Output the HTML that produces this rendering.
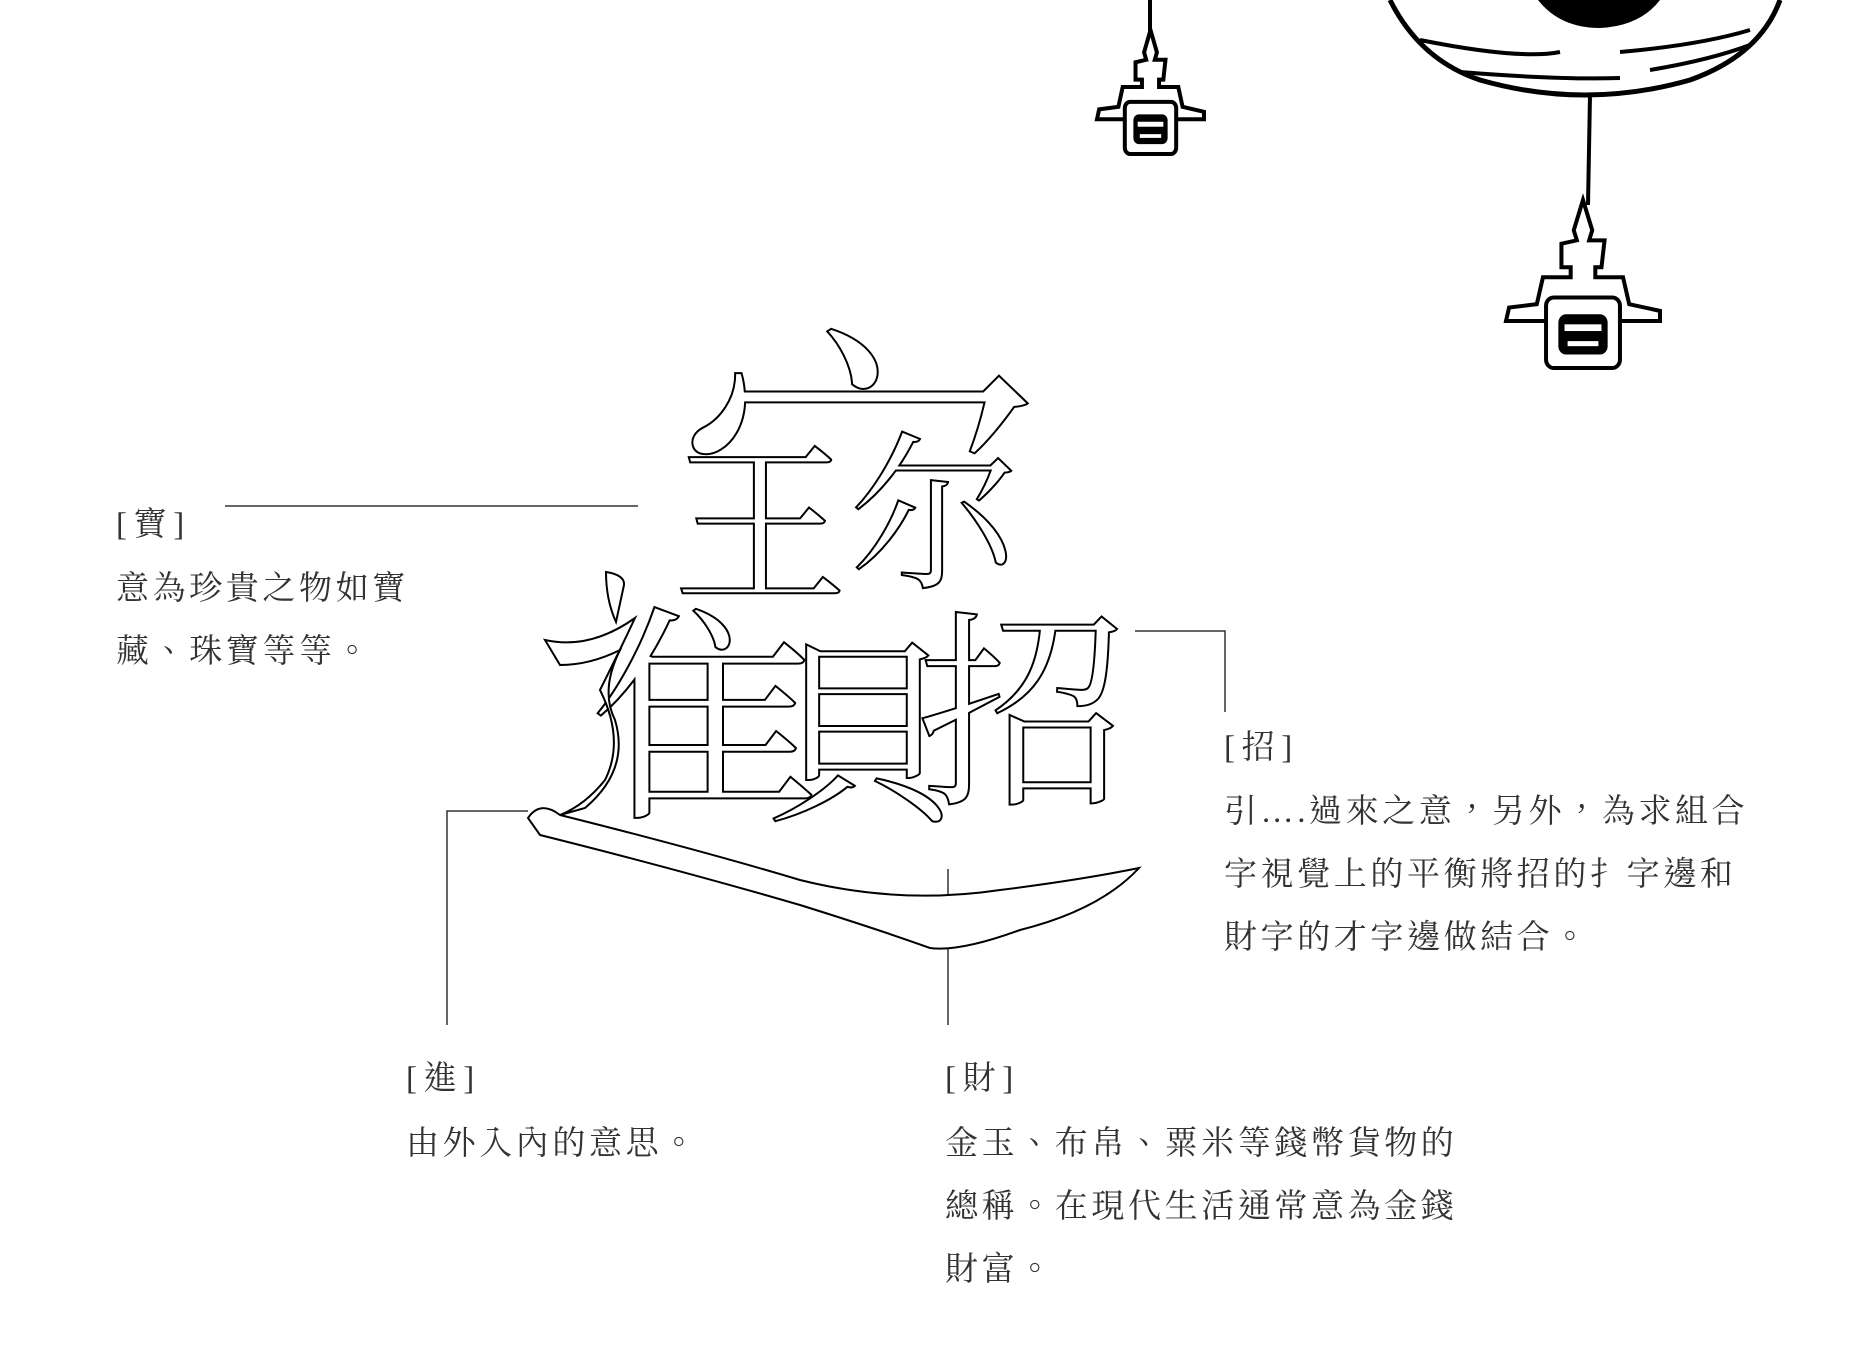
<!DOCTYPE html>
<html><head><meta charset="utf-8"><style>
html,body{margin:0;padding:0;background:#fff;}
body{width:1850px;height:1355px;position:relative;overflow:hidden;}
.t{position:absolute;font-family:"Liberation Serif","Noto Serif CJK TC","Noto Serif CJK SC",serif;color:#333;font-size:33px;letter-spacing:3.6px;line-height:63px;white-space:nowrap;}
.l{letter-spacing:0;}
svg{position:absolute;left:0;top:0;}
</style></head><body>
<svg width="1850" height="1355" viewBox="0 0 1850 1355">
<defs>
<g id="pend">
<path d="M50 0 L56 18 L54 24 L64 24 L62 40 L58 40 L58 46 L76 46 L80 62 L100 66 L100 72 L0 72 L2 64 L20 62 L24 46 L42 46 L42 40 L36 40 L36 26 L46 24 L44 18 Z" fill="#fff" stroke="#000" stroke-width="4" vector-effect="non-scaling-stroke"/>
<rect x="26" y="58" width="48" height="42" rx="5" fill="#fff" stroke="#000" stroke-width="4" vector-effect="non-scaling-stroke"/>
<rect x="34" y="68" width="32" height="24" rx="5" fill="#000"/>
<rect x="38" y="74" width="24" height="4" fill="#fff"/>
<rect x="40" y="84" width="20" height="3" fill="#fff"/>
</g>
</defs>
<line x1="1150" y1="0" x2="1150" y2="34" stroke="#000" stroke-width="4"/>
<use href="#pend" transform="translate(1097,30) scale(1.07,1.24)"/>
<path d="M1390 0 Q1420 60 1480 80 Q1585 110 1690 80 Q1760 55 1780 0" fill="none" stroke="#000" stroke-width="5"/>
<path d="M1420 40 Q1520 60 1560 52 M1620 52 Q1700 45 1750 30 M1460 72 Q1560 80 1620 78 M1650 70 Q1710 60 1750 45" fill="none" stroke="#000" stroke-width="4"/>
<path d="M1538 0 Q1560 28 1600 28 Q1640 26 1660 0 Z" fill="#000"/>
<line x1="1590" y1="95" x2="1588" y2="205" stroke="#000" stroke-width="4"/>
<use href="#pend" transform="translate(1506,200) scale(1.54,1.68)"/>
<g stroke="#333" stroke-width="1.5" fill="none">
<line x1="225" y1="506" x2="638" y2="506"/>
<polyline points="528,811 447,811 447,1025"/>
<line x1="948" y1="869" x2="948" y2="1025"/>
<polyline points="1135,631 1225,631 1225,712"/>
</g>
<g font-family="'Noto Serif CJK TC','Noto Serif CJK SC',serif" fill="#fff" stroke="#000" stroke-width="2" text-anchor="middle">
<text x="860" y="610" font-size="360">宀</text>
<text x="760" y="588" font-size="175">王</text>
<text x="935" y="575" font-size="170">尔</text>
<text x="706" y="800" font-size="230">隹</text>
<text x="862" y="806" font-size="200">貝</text>
<text x="1022" y="788" font-size="210">招</text>
</g>
<g fill="#fff" stroke="#000" stroke-width="2">
<path d="M606 572 Q625 575 624 585 L616 622 Q606 600 606 572 Z"/>
<path d="M545 640 Q590 650 635 618 Q620 650 600 690 Q625 740 605 780 Q585 805 560 815 L585 808 Q630 770 615 720 Q600 690 620 650 Q590 665 560 665 Z"/>
<path d="M528 818 Q540 800 560 815 Q700 850 800 880 Q900 905 1000 890 Q1080 880 1139 868 Q1100 910 1020 930 Q960 952 930 948 Q880 930 800 905 Q680 870 540 835 Z"/>
</g>
</svg>
<div class="t l" style="left:116px;top:494px;">[&#8201;寶&#8201;]</div>
<div class="t" style="left:116px;top:558px;">意為珍貴之物如寶<br>藏、珠寶等等。</div>
<div class="t l" style="left:406px;top:1048px;">[&#8201;進&#8201;]</div>
<div class="t" style="left:406px;top:1113px;">由外入內的意思。</div>
<div class="t l" style="left:945px;top:1048px;">[&#8201;財&#8201;]</div>
<div class="t" style="left:945px;top:1113px;">金玉、布帛、粟米等錢幣貨物的<br>總稱。在現代生活通常意為金錢<br>財富。</div>
<div class="t l" style="left:1224px;top:717px;">[&#8201;招&#8201;]</div>
<div class="t" style="left:1224px;top:781px;">引….過來之意，另外，為求組合<br>字視覺上的平衡將招的扌字邊和<br>財字的才字邊做結合。</div>
</body></html>
